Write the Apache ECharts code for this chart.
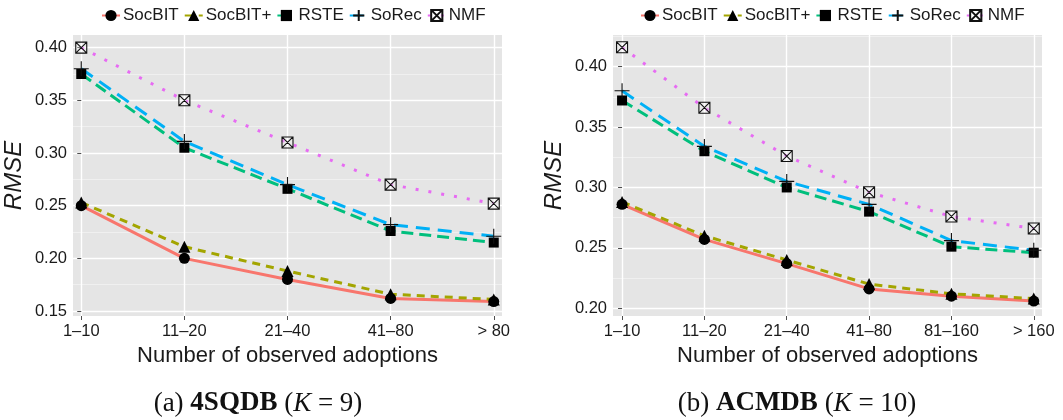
<!DOCTYPE html>
<html>
<head>
<meta charset="utf-8">
<script src="https://cdn.jsdelivr.net/npm/echarts@6/dist/echarts.min.js"></script>
<style>
  html, body { margin: 0; padding: 0; background: #fff; }
  #chart { width: 1063px; height: 420px; }
</style>
</head>
<body>
<div id="chart"></div>
<script>
// Category labels for the two datasets
const categoriesA = ['1–10', '11–20', '21–40', '41–80', '> 80'];
const categoriesB = ['1–10', '11–20', '21–40', '41–80', '81–160', '> 160'];

// RMSE per method, 4SQDB (K = 9)
const socbitA     = [0.250, 0.200, 0.180, 0.162, 0.159];
const socbitPlusA = [0.253, 0.211, 0.188, 0.166, 0.161];
const rsteA       = [0.375, 0.305, 0.266, 0.226, 0.215];
const sorecA      = [0.380, 0.311, 0.270, 0.232, 0.221];
const nmfA        = [0.400, 0.350, 0.310, 0.270, 0.252];

// RMSE per method, ACMDB (K = 10)
const socbitB     = [0.286, 0.257, 0.237, 0.216, 0.210, 0.206];
const socbitPlusB = [0.288, 0.260, 0.240, 0.220, 0.212, 0.208];
const rsteB       = [0.372, 0.330, 0.300, 0.280, 0.251, 0.246];
const sorecB      = [0.380, 0.334, 0.305, 0.286, 0.256, 0.248];
const nmfB        = [0.416, 0.366, 0.326, 0.296, 0.276, 0.266];

// Y tick labels and minor grid positions
const yTicksA = [0.15, 0.20, 0.25, 0.30, 0.35, 0.40];
const yMinorA = [0.175, 0.225, 0.275, 0.325, 0.375];
const yTicksB = [0.20, 0.25, 0.30, 0.35, 0.40];
const yMinorB = [0.225, 0.275, 0.325, 0.375, 0.425];

const methodNames = ['SocBIT', 'SocBIT+', 'RSTE', 'SoRec', 'NMF'];

const chart = echarts.init(document.getElementById('chart'), null, { renderer: 'canvas' });

const TEXT = '#1a1a1a';
const PANEL = '#E5E5E5';
const TICK = '#4d4d4d';
const SANS = 'Liberation Sans, Arial, sans-serif';
const SERIF = 'Liberation Serif, Times New Roman, serif';

const styles = {
  'SocBIT':  { color: '#F8766D', dash: 'solid',   symbol: 'circle',   size: 11 },
  'SocBIT+': { color: '#A3A500', dash: [8, 6],    symbol: 'triangle', size: 12 },
  'RSTE':    { color: '#00BF7D', dash: [12, 6],   symbol: 'rect',     size: 10 },
  'SoRec':   { color: '#00B0F6', dash: [14, 8],   symbol: 'path://M5,0 L5,10 M0,5 L10,5', size: 15, outline: true },
  'NMF':     { color: '#E76BF3', dash: [3, 10],   symbol: 'path://M0,0 L10,0 L10,10 L0,10 Z M0,0 L10,10 M10,0 L0,10', size: 11, outline: true }
};

function toPairs(arr) { return arr.map((v, i) => [i, v]); }

function makeSeries(name, values, gridIdx) {
  const s = styles[name];
  return {
    name: name,
    type: 'line',
    xAxisIndex: gridIdx,
    yAxisIndex: gridIdx * 2,
    data: toPairs(values),
    symbol: s.symbol,
    symbolSize: s.size,
    showSymbol: true,
    animation: false,
    lineStyle: { color: s.color, width: 3, type: s.dash, cap: 'butt' },
    itemStyle: s.outline
      ? { color: 'rgba(255,255,255,0.25)', borderColor: '#111', borderWidth: 1.1 }
      : { color: '#000', borderWidth: 0 },
    emphasis: { disabled: true }
  };
}

function xAxisFor(gridIdx, cats, pad0, pad1) {
  return {
    type: 'value',
    gridIndex: gridIdx,
    min: -pad0,
    max: cats.length - 1 + pad1,
    axisLine: { show: false },
    axisTick: { show: true, customValues: cats.map((c, i) => i), length: 4, lineStyle: { color: TICK, width: 1 } },
    axisLabel: {
      customValues: cats.map((c, i) => i),
      formatter: v => cats[Math.round(v)],
      color: TEXT, fontSize: 16.5, fontFamily: SANS, margin: 7
    },
    splitLine: { show: true, lineStyle: { color: '#ffffff', width: 1.4 } },
    name: 'Number of observed adoptions',
    nameLocation: 'middle',
    nameGap: 21,
    nameTextStyle: { color: TEXT, fontSize: 22, fontFamily: SANS }
  };
}

function yAxesFor(gridIdx, ticks, minor, lo, hi) {
  return [
    {
      type: 'value',
      gridIndex: gridIdx,
      min: lo, max: hi,
      axisLine: { show: false },
      axisTick: { show: true, customValues: ticks, length: 4, lineStyle: { color: TICK, width: 1 } },
      axisLabel: {
        customValues: ticks,
        formatter: v => v.toFixed(2),
        color: TEXT, fontSize: 16.5, fontFamily: SANS, margin: 6
      },
      splitLine: { show: true, lineStyle: { color: '#ffffff', width: 1.4 } },
      name: 'RMSE',
      nameLocation: 'middle',
      nameGap: 47,
      nameRotate: 90,
      nameTextStyle: { color: TEXT, fontSize: 24, fontStyle: 'italic', fontFamily: SANS }
    },
    {
      type: 'value',
      gridIndex: gridIdx,
      min: lo, max: hi,
      position: 'left',
      axisLine: { show: false },
      axisTick: { show: false, customValues: minor },
      axisLabel: { show: false, customValues: minor },
      splitLine: { show: true, lineStyle: { color: '#f2f2f2', width: 0.8 } }
    }
  ];
}

function caption(letter, db, k, x) {
  return {
    text: '{n|(' + letter + ') }{b|' + db + '}{n| (}{i|K}{n| = ' + k + ')}',
    left: x,
    top: 385,
    textAlign: 'center',
    textStyle: {
      fontWeight: 'normal',
      rich: {
        n: { fontFamily: SERIF, fontSize: 27, fontWeight: 'normal', color: '#111' },
        b: { fontFamily: SERIF, fontSize: 27, fontWeight: 'bold', color: '#111' },
        i: { fontFamily: SERIF, fontSize: 27, fontWeight: 'normal', fontStyle: 'italic', color: '#111' }
      }
    }
  };
}

function legendAt(x) {
  return {
    data: methodNames,
    left: x,
    top: 2,
    itemWidth: 18,
    itemHeight: 14,
    itemGap: 5,
    selectedMode: false,
    textStyle: { color: TEXT, fontSize: 17, fontFamily: SANS, padding: [0, 0, 0, -2] }
  };
}

const seriesList = [];
[[socbitA, socbitPlusA, rsteA, sorecA, nmfA], [socbitB, socbitPlusB, rsteB, sorecB, nmfB]].forEach((set, g) => {
  set.forEach((vals, m) => seriesList.push(makeSeries(methodNames[m], vals, g)));
});

const option = {
  backgroundColor: '#ffffff',
  animation: false,
  title: [caption('a', '4SQDB', '9', 253), caption('b', 'ACMDB', '10', 792)],
  legend: [legendAt(96), legendAt(635)],
  grid: [
    { left: 73, top: 35, width: 429, height: 281, show: true, backgroundColor: PANEL, borderWidth: 0 },
    { left: 613, top: 35, width: 429, height: 281, show: true, backgroundColor: PANEL, borderWidth: 0 }
  ],
  xAxis: [xAxisFor(0, categoriesA, 0.08, 0.08), xAxisFor(1, categoriesB, 0.11, 0.10)],
  yAxis: [].concat(yAxesFor(0, yTicksA, yMinorA, 0.1453, 0.412), yAxesFor(1, yTicksB, yMinorB, 0.1936, 0.4262)),
  series: seriesList
};

chart.setOption(option);
</script>
</body>
</html>
